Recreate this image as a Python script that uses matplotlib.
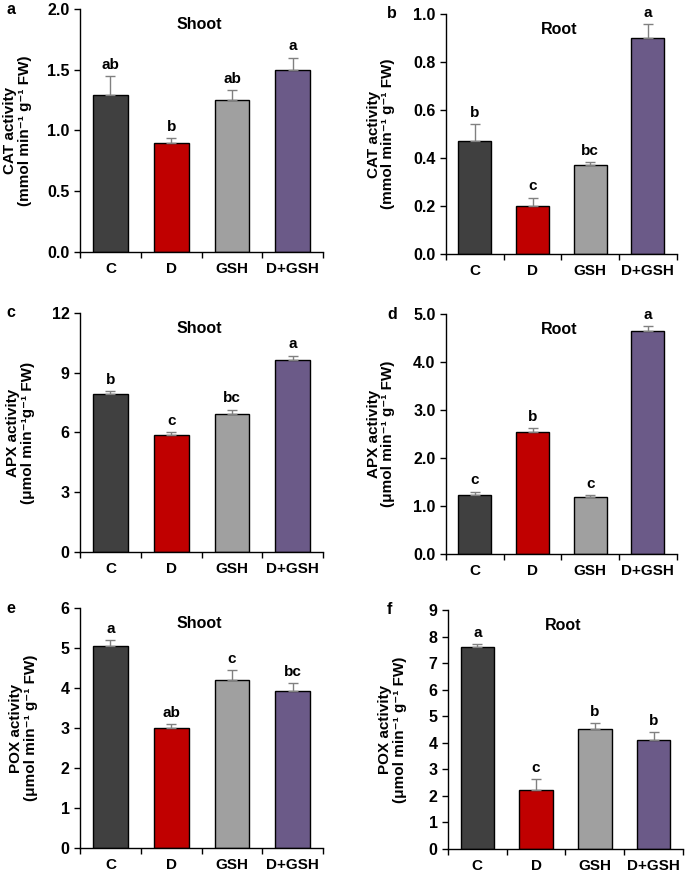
import numpy as np
import matplotlib
matplotlib.use("Agg")
import matplotlib.pyplot as plt
from matplotlib.ticker import FormatStrFormatter

plt.rcParams['font.family'] = ['Liberation Sans', 'DejaVu Sans']
plt.rcParams['font.weight'] = 'bold'

categories = ["C", "D", "GSH", "D+GSH"]
bar_colors = ["#404040", "#c00000", "#a0a0a0", "#6b5a88"]

# panel a - CAT shoot
cat_shoot = [1.29, 0.90, 1.25, 1.50]
cat_shoot_err = [0.16, 0.04, 0.08, 0.10]
cat_shoot_letters = ["ab", "b", "ab", "a"]
# panel b - CAT root
cat_root = [0.47, 0.20, 0.37, 0.90]
cat_root_err = [0.07, 0.035, 0.013, 0.058]
cat_root_letters = ["b", "c", "bc", "a"]
# panel c - APX shoot
apx_shoot = [7.92, 5.89, 6.93, 9.62]
apx_shoot_err = [0.16, 0.14, 0.22, 0.24]
apx_shoot_letters = ["b", "c", "bc", "a"]
# panel d - APX root
apx_root = [1.22, 2.54, 1.19, 4.65]
apx_root_err = [0.08, 0.08, 0.03, 0.10]
apx_root_letters = ["c", "b", "c", "a"]
# panel e - POX shoot
pox_shoot = [5.06, 3.01, 4.21, 3.93]
pox_shoot_err = [0.13, 0.08, 0.23, 0.19]
pox_shoot_letters = ["a", "ab", "c", "bc"]
# panel f - POX root
pox_root = [7.62, 2.23, 4.51, 4.11]
pox_root_err = [0.09, 0.40, 0.23, 0.30]
pox_root_letters = ["a", "c", "b", "b"]

panels = [
    # letter, title, ylabel, values, errs, letters, yticks, fmt, rect, label_x
    ("a", "Shoot", "CAT activity\n(mmol min\u207b\u00b9 g\u207b\u00b9 FW)",
     cat_shoot, cat_shoot_err, cat_shoot_letters, np.arange(0, 2.01, 0.5), "%.1f",
     [0.1168, 0.7117, 0.355, 0.278], -0.198),
    ("b", "Root", "CAT activity\n(mmol min\u207b\u00b9 g\u207b\u00b9 FW)",
     cat_root, cat_root_err, cat_root_letters, np.arange(0, 1.01, 0.2), "%.1f",
     [0.651, 0.7094, 0.337, 0.2746], -0.22),
    ("c", "Shoot", "APX activity\n(\u03bcmol min\u207b\u00b9g\u207b\u00b9 FW)",
     apx_shoot, apx_shoot_err, apx_shoot_letters, np.arange(0, 12.1, 3), "%d",
     [0.1168, 0.3684, 0.355, 0.2735], -0.185),
    ("d", "Root", "APX activity\n(\u03bcmol min\u207b\u00b9 g\u207b\u00b9 FW)",
     apx_root, apx_root_err, apx_root_letters, np.arange(0, 5.01, 1.0), "%.1f",
     [0.651, 0.3661, 0.337, 0.2746], -0.22),
    ("e", "Shoot", "POX activity\n(\u03bcmol min\u207b\u00b9 g\u207b\u00b9 FW)",
     pox_shoot, pox_shoot_err, pox_shoot_letters, np.arange(0, 6.1, 1), "%d",
     [0.1168, 0.0297, 0.355, 0.2746], -0.173),
    ("f", "Root", "POX activity\n(\u03bcmol min\u207b\u00b9 g\u207b\u00b9 FW)",
     pox_root, pox_root_err, pox_root_letters, np.arange(0, 9.1, 1), "%d",
     [0.654, 0.0286, 0.343, 0.2735], -0.175),
]

fig = plt.figure(figsize=(6.85, 8.74), dpi=100)
x = np.arange(len(categories))

for letter, title, ylabel, vals, errs, sig, yticks, fmt, rect, label_x in panels:
    ax = fig.add_axes(rect)
    ax.bar(x, vals, width=0.57, color=bar_colors, edgecolor="black", linewidth=1.0, zorder=2)
    ax.errorbar(x, vals, yerr=[np.zeros(len(vals)), errs], fmt="none",
                ecolor="#808080", elinewidth=1.0, capsize=3.8, capthick=1.0, zorder=3)
    for xi, v, e, s in zip(x, vals, errs, sig):
        ax.annotate(s, (xi, v + e), xytext=(0, 3), textcoords="offset points",
                    ha="center", va="bottom", fontsize=11, fontweight="bold")

    ax.set_xlim(-0.5, 3.5)
    ax.set_ylim(yticks[0], yticks[-1])
    ax.set_yticks(yticks)
    ax.yaxis.set_major_formatter(FormatStrFormatter(fmt))
    ax.set_xticks([-0.5, 0.5, 1.5, 2.5, 3.5])
    ax.set_xticklabels([])
    ax.set_xticks(x, minor=True)
    ax.set_xticklabels(categories, minor=True)
    ax.tick_params(axis="x", which="major", direction="out", length=4, width=1)
    ax.tick_params(axis="x", which="minor", length=0, pad=7.5, labelsize=11)
    ax.tick_params(axis="y", direction="out", length=4, width=1, labelsize=11.5)
    for lab in ax.get_xticklabels(minor=True) + ax.get_yticklabels():
        lab.set_fontweight("bold")

    ax.spines["top"].set_visible(False)
    ax.spines["right"].set_visible(False)
    ax.spines["left"].set_linewidth(1.0)
    ax.spines["bottom"].set_linewidth(1.0)

    ax.set_ylabel(ylabel, fontsize=11, fontweight="bold", linespacing=1.05)
    ax.yaxis.set_label_coords(label_x, 0.5)
    ax.text(0.49, 0.935, title, transform=ax.transAxes, ha="center", va="center",
            fontsize=11.5, fontweight="bold")

    # panel letter in figure pixels
    px = 6 if rect[0] < 0.5 else 387
    bbox = ax.get_position()
    fig.text(px / 685, bbox.y1 + 0.0, letter, ha="left", va="center",
             fontsize=11.5, fontweight="bold")

fig.savefig("out.png", dpi=100)
